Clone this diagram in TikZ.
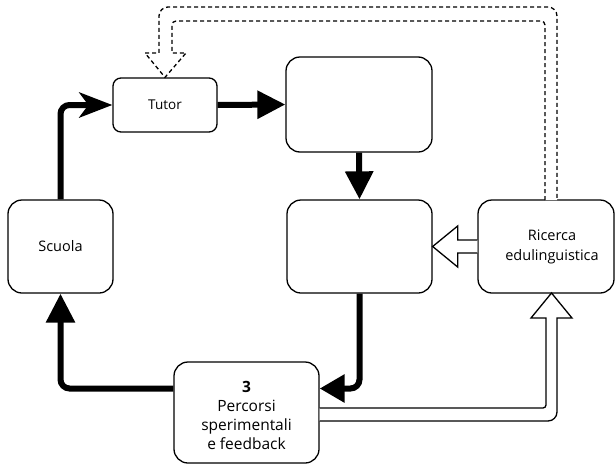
\documentclass[tikz,border=0pt]{standalone}
\usepackage{fontspec}
\setmainfont{Open Sans}
\usetikzlibrary{arrows.meta,calc}
\begin{document}
\begin{tikzpicture}[x=1pt,y=-1pt,
  box/.style={draw, line width=1.3pt, fill=white, align=center,
    font=\fontsize{14.5}{20}\selectfont, inner sep=0pt},
  smallbox/.style={box, rounded corners=8pt},
  bigbox/.style={box, rounded corners=14pt},
  boxtext/.style={align=center, inner sep=0pt},
  flow/.style={line width=6pt, rounded corners=9pt},
  tri/.style={-{Triangle[length=28pt,width=27pt]}},
  blockarrow/.style={draw, line width=1.3pt, fill=white, line join=miter},
  dashedarrow/.style={blockarrow, dashed, dash pattern=on 4pt off 3pt}
]
\useasboundingbox (0,0) rectangle (615,466);

% boxes
\node[smallbox, minimum width=104pt, minimum height=54pt, font=\fontsize{13.5}{19}\selectfont] (tutor) at (165,105) {Tutor};
\node[bigbox, minimum width=146pt, minimum height=95pt] (top) at (359,104.5) {};
\node[bigbox, minimum width=145pt, minimum height=93pt] (mid) at (359.5,246.5) {};
\node[bigbox, minimum width=136pt, minimum height=93pt] (ric) at (546,246.5) {};
\node[boxtext, font=\fontsize{14.5}{20}\selectfont] (rictext) at (552,247) {Ricerca\\edulinguistica};
\node[bigbox, minimum width=105pt, minimum height=93pt] (scuola) at (60.5,246.5) {Scuola};
\node[bigbox, minimum width=145pt, minimum height=101pt] (perc) at (246.5,412.5) {};
\node[boxtext, font=\fontsize{15.5}{19}\selectfont] (perctext) at (246.5,415.5)
  {\textbf{3}\\Percorsi\\sperimentali\\e feedback};

% thick flow connectors
\draw[flow, -{Stealth[length=33pt,width=25pt,inset=9pt]}] (scuola.north) |- (tutor.west);
\draw[flow, tri] (tutor.east) -- (top.west);
\draw[flow, tri] (top.south) -- (mid.north);
\draw[flow, -{Triangle[length=25pt,width=27pt]}] (mid.south) |- ([yshift=24pt]perc.east);
\draw[flow, -{Triangle[length=29pt,width=28pt]}] ([yshift=24pt]perc.west) -| (scuola.south);

% hollow block arrow: research feeds the middle step
\coordinate (ra) at ($(mid.east)+(25,0)$);
\draw[blockarrow]
  (ric.west |- 0,240) -- (ra |- 0,240) -- (ra |- 0,226) -- (mid.east)
  -- (ra |- 0,267) -- (ra |- 0,253) -- (ric.west |- 0,253);

% hollow block arrow: experiments feed back into research
\coordinate (pt) at (551.5,293);
\draw[blockarrow]
  (perc.east |- 0,408) [rounded corners=3pt] -- (546,408) [sharp corners] -- (546,318)
  -- (531,318) -- (pt) -- (572,318) -- (557,318) [rounded corners=9pt] -- (557,421)
  [sharp corners] -- (perc.east |- 0,421);

% dashed hollow arrow: research back to the tutor
\coordinate (tt) at (tutor.north);
\draw[dashedarrow]
  (545,200) [rounded corners=4pt] -- (545,21) -- (172,21) [sharp corners] -- (172,53)
  -- (186,53) -- (tt) -- (145,53) -- (159,53) [rounded corners=9pt] -- (159,7)
  -- (557,7) [sharp corners] -- (557,200);
\end{tikzpicture}
\end{document}
